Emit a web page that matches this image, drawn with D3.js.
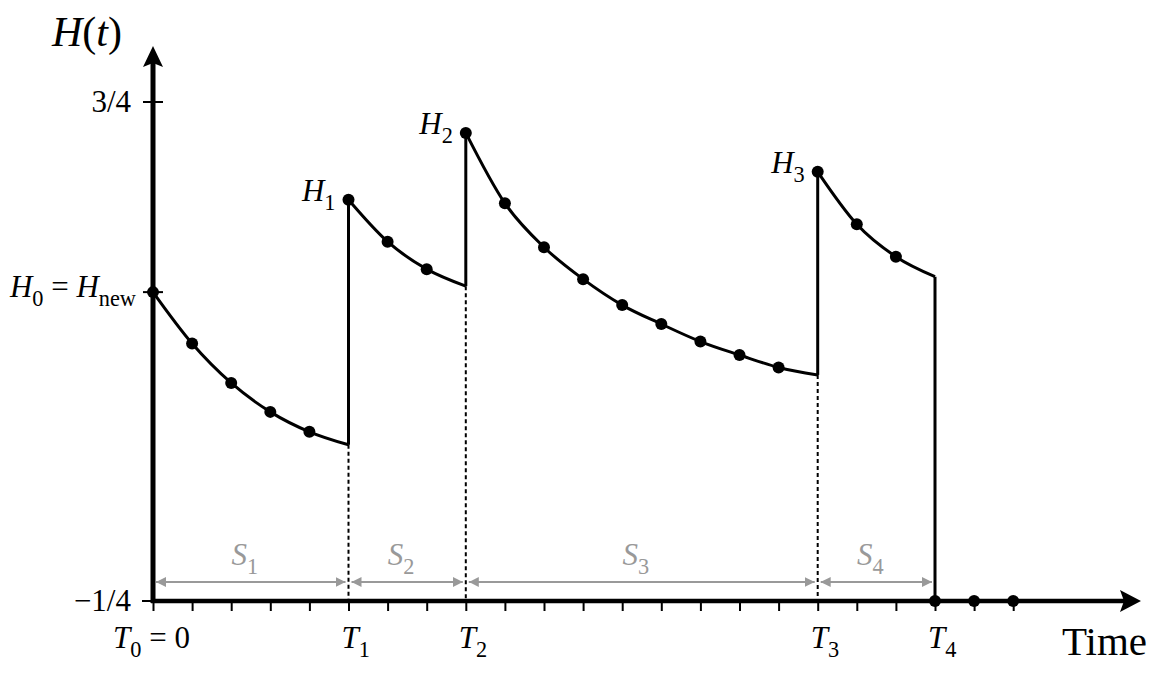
<!DOCTYPE html>
<html lang="en">
  <head>
    <meta charset="utf-8">
    <title>H(t) over time</title>
    <script src="https://cdnjs.cloudflare.com/ajax/libs/d3/7.8.5/d3.min.js"></script>
    <style>
      body { margin: 0; background: #fff; }
      text { font-family: "Liberation Serif", "Times New Roman", serif; }
    </style>
  </head>
  <body>
    <div class="chart"></div>
    <script>
      var svgWidth = 1162;
      var svgHeight = 677;

      // segment boundaries (time units = minor ticks)
      var boundaryTimes = [0, 5, 8, 17, 20];
      var boundaryNames = ["T", "T", "T", "T", "T"];
      var boundarySubs = ["0", "1", "2", "3", "4"];

      // H(t) read at every integer time inside each segment
      var seg1 = [0.369, 0.266, 0.187, 0.129, 0.089, 0.063];
      var seg2 = [0.554, 0.470, 0.415, 0.381];
      var seg3 = [0.688, 0.547, 0.459, 0.395, 0.343, 0.305, 0.270, 0.243, 0.218, 0.203];
      var seg4 = [0.610, 0.505, 0.440, 0.400];
      var segments = [seg1, seg2, seg3, seg4];

      var peakSubs = ["1", "2", "3"];
      var spanSubs = ["1", "2", "3", "4"];
      var tailDots = [20, 21, 22];
      var xTicks = d3.range(0, 23);
      var yTicks = [0.75, -0.25];
      var yTickLabels = ["3/4", "\u22121/4"];
      var h0 = seg1[0];

      var fs = 31;

      var svg = d3.select(".chart")
        .append("svg")
        .attr("width", svgWidth)
        .attr("height", svgHeight);

      var x = d3.scaleLinear().domain([0, 20]).range([153, 935]);
      var y = d3.scaleLinear().domain([-0.25, 0.75]).range([601, 102]);

      var x0 = x(0), yBase = y(-0.25);

      // arrow marker for gray spans
      svg.append("defs").append("marker")
        .attr("id", "garrow")
        .attr("viewBox", "0 0 10 10")
        .attr("refX", 10).attr("refY", 5)
        .attr("markerWidth", 5).attr("markerHeight", 5)
        .attr("markerUnits", "strokeWidth")
        .attr("orient", "auto-start-reverse")
        .append("path")
        .attr("d", "M0,0L10,5L0,10z")
        .attr("fill", "#999");

      // x ticks below axis
      var bottomAxis = d3.axisBottom(x).tickValues(xTicks).tickSize(10).tickFormat("");
      var gx = svg.append("g")
        .attr("transform", `translate(0, ${yBase})`)
        .call(bottomAxis);
      gx.select(".domain").remove();
      gx.selectAll(".tick line").attr("stroke", "#000").attr("stroke-width", 2);

      // y ticks
      svg.selectAll(".ytick")
        .data([0.75, h0])
        .enter().append("line")
        .attr("x1", x0 - 10).attr("x2", x0 + 10)
        .attr("y1", d => y(d)).attr("y2", d => y(d))
        .attr("stroke", "#000").attr("stroke-width", 2);
      svg.append("line")
        .attr("x1", x0 - 11).attr("x2", x0)
        .attr("y1", yBase).attr("y2", yBase)
        .attr("stroke", "#000").attr("stroke-width", 2);

      // main axes with arrows
      svg.append("line")
        .attr("x1", x0).attr("x2", x0)
        .attr("y1", yBase + 2).attr("y2", 62)
        .attr("stroke", "#000").attr("stroke-width", 5);
      svg.append("path")
        .attr("d", `M${x0},46L${x0 + 10},67L${x0},63L${x0 - 10},67Z`)
        .attr("fill", "#000");
      svg.append("line")
        .attr("x1", x0 - 2).attr("x2", 1124)
        .attr("y1", yBase).attr("y2", yBase)
        .attr("stroke", "#000").attr("stroke-width", 4.5);
      svg.append("path")
        .attr("d", `M1141,${yBase}L1120,${yBase - 11}L1124,${yBase}L1120,${yBase + 11}Z`)
        .attr("fill", "#000");

      // dashed guides at T1..T3
      var guides = [1, 2, 3].map(i => ({ t: boundaryTimes[i], v: segments[i - 1][segments[i - 1].length - 1] }));
      svg.selectAll(".guide")
        .data(guides)
        .enter().append("line")
        .attr("x1", d => x(d.t)).attr("x2", d => x(d.t))
        .attr("y1", d => y(d.v)).attr("y2", yBase)
        .attr("stroke", "#000").attr("stroke-width", 2)
        .attr("stroke-dasharray", "4,3");

      // jumps
      var jumps = [1, 2, 3].map(i => ({ t: boundaryTimes[i], a: segments[i - 1][segments[i - 1].length - 1], b: segments[i][0] }));
      jumps.push({ t: 20, a: seg4[seg4.length - 1], b: -0.25 });
      svg.selectAll(".jump")
        .data(jumps)
        .enter().append("line")
        .attr("x1", d => x(d.t)).attr("x2", d => x(d.t))
        .attr("y1", d => y(d.a)).attr("y2", d => y(d.b))
        .attr("stroke", "#000").attr("stroke-width", 3);

      // decay curves
      var line = d3.line()
        .x(d => x(d.t))
        .y(d => y(d.v))
        .curve(d3.curveMonotoneX);

      var pts = segments.map((s, i) => s.map((v, k) => ({ t: boundaryTimes[i] + k, v: v })));

      svg.selectAll(".curve")
        .data(pts)
        .enter().append("path")
        .attr("d", line)
        .attr("fill", "none")
        .attr("stroke", "#000")
        .attr("stroke-width", 3);

      // dots (all but the segment end)
      var dots = [];
      pts.forEach(p => p.slice(0, -1).forEach(d => dots.push(d)));
      tailDots.forEach(t => dots.push({ t: t, v: -0.25 }));
      svg.selectAll(".dot")
        .data(dots)
        .enter().append("circle")
        .attr("cx", d => x(d.t))
        .attr("cy", d => y(d.v))
        .attr("r", 6)
        .attr("fill", "#000");

      // gray spans
      var spans = d3.range(4).map(i => ({ a: boundaryTimes[i], b: boundaryTimes[i + 1], s: spanSubs[i] }));
      svg.selectAll(".span")
        .data(spans)
        .enter().append("line")
        .attr("x1", d => x(d.a) + 3).attr("x2", d => x(d.b) - 3)
        .attr("y1", yBase - 19).attr("y2", yBase - 19)
        .attr("stroke", "#999").attr("stroke-width", 2)
        .attr("marker-start", "url(#garrow)")
        .attr("marker-end", "url(#garrow)");

      function subLabel(g, base, sub, size) {
        g.append("tspan").attr("font-style", "italic").text(base);
        g.append("tspan").attr("font-size", size * 0.72).attr("dy", size * 0.3).text(sub);
      }
      function back(g, size, txt) {
        g.append("tspan").attr("dy", -size * 0.3).text(txt);
      }

      spans.forEach(d => {
        var t = svg.append("text")
          .attr("x", (x(d.a) + x(d.b)) / 2 - 6)
          .attr("y", yBase - 36)
          .attr("text-anchor", "middle")
          .attr("font-size", fs)
          .attr("fill", "#999");
        subLabel(t, "S", d.s, fs);
      });

      // T labels
      boundaryTimes.forEach((bt, i) => {
        var t = svg.append("text")
          .attr("x", i === 0 ? 113 : x(bt) - 7)
          .attr("y", 648)
          .attr("font-size", fs)
          .attr("text-anchor", "start")
          .attr("fill", "#000");
        subLabel(t, boundaryNames[i], boundarySubs[i], fs);
        if (i === 0) back(t, fs, " = 0");
      });

      // peak labels H1..H3
      [1, 2, 3].forEach((i, k) => {
        var t = svg.append("text")
          .attr("x", x(boundaryTimes[i]) - 13)
          .attr("y", y(segments[i][0]) + 1)
          .attr("text-anchor", "end")
          .attr("font-size", fs);
        subLabel(t, "H", peakSubs[k], fs);
      });

      // H0 = Hnew
      var h0t = svg.append("text")
        .attr("x", 136).attr("y", y(h0) + 5)
        .attr("text-anchor", "end")
        .attr("font-size", fs);
      subLabel(h0t, "H", "0", fs);
      back(h0t, fs, " = ");
      subLabel(h0t, "H", "new", fs);

      // y tick labels
      svg.selectAll(".ylab")
        .data(yTicks)
        .enter().append("text")
        .attr("x", 131)
        .attr("y", d => y(d) + 10)
        .attr("text-anchor", "end")
        .attr("font-size", fs)
        .text((d, i) => yTickLabels[i]);

      // axis titles
      var ht = svg.append("text")
        .attr("x", 52).attr("y", 46)
        .attr("font-size", 42);
      ht.append("tspan").attr("font-style", "italic").text("H");
      ht.append("tspan").text("(");
      ht.append("tspan").attr("font-style", "italic").text("t");
      ht.append("tspan").text(")");

      svg.append("text")
        .attr("x", 1147).attr("y", 655)
        .attr("text-anchor", "end")
        .attr("font-size", 41)
        .text("Time");
    </script>
  </body>
</html>
